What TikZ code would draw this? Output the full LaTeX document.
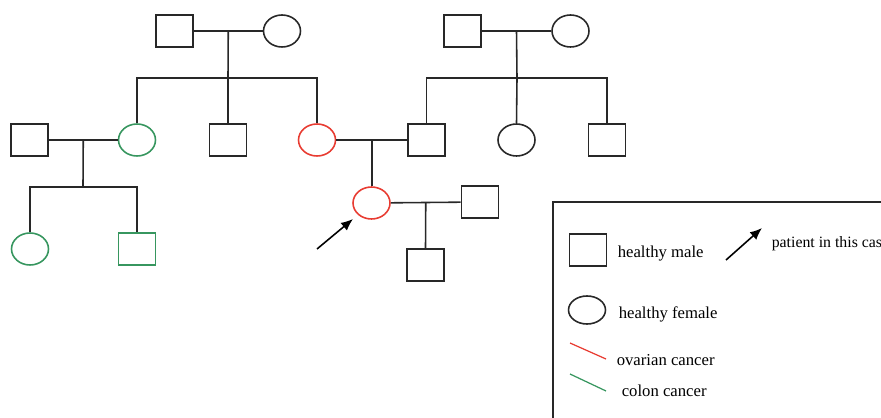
\documentclass[tikz,border=0pt]{standalone}
\usepackage{fontspec}
\setmainfont{Liberation Serif}
\usepackage{tikz}
\usetikzlibrary{shapes.geometric, arrows.meta}
\definecolor{ovary}{RGB}{232, 60, 50}
\definecolor{colon}{RGB}{55, 150, 95}
\definecolor{ink}{RGB}{40, 40, 40}

\begin{document}
\begin{tikzpicture}[x=0.02cm, y=-0.02cm, line width=0.9pt, ink,
  male/.style={draw, rectangle, minimum width=0.74cm, minimum height=0.64cm, inner sep=0pt},
  female/.style={draw, ellipse, minimum width=0.74cm, minimum height=0.64cm, inner sep=0pt},
  keytext/.style={anchor=base west, inner sep=0pt, text=black, font=\fontsize{9.5}{11}\selectfont}]
  \useasboundingbox (0, 0) rectangle (881, 418);
  \clip (0, 0) rectangle (881, 418);

  \node[male] (gfa) at (174.5, 31) {};
  \node[female] (gma) at (282, 31) {};
  \node[male] (gfb) at (462.5, 31) {};
  \node[female] (gmb) at (570.5, 31) {};

  \node[male] (auntman) at (29.5, 140) {};
  \node[female, colon] (aunt) at (137, 140) {};
  \node[male] (uncle) at (228, 140) {};
  \node[female, ovary] (mother) at (317, 140) {};
  \node[male] (father) at (426.5, 140) {};
  \node[female] (auntb) at (516.5, 140) {};
  \node[male] (uncleb) at (607, 140) {};

  \node[female, colon] (cousina) at (30, 249) {};
  \node[male, colon] (cousinb) at (137, 249) {};
  \node[female, ovary] (patient) at (371.5, 203) {};
  \node[male] (husband) at (480, 202) {};
  \node[male] (son) at (425.5, 265) {};

  \coordinate (bara) at (228, 78);
  \coordinate (barb) at (517, 78);
  \coordinate (barc) at (83, 187);

  \draw (gfa) -- coordinate (wedA) (gma);
  \draw (wedA) -- (bara);
  \draw (aunt.north) |- (bara) -| (mother.north);
  \draw (bara) -- (uncle.north);

  \draw (gfb) -- coordinate (wedB) (gmb);
  \draw (wedB) -- (barb);
  \draw (father.north) |- (barb) -| (uncleb.north);
  \draw (barb) -- (auntb.north);

  \draw (auntman) -- coordinate (wedC) (aunt);
  \draw (wedC) -- (barc);
  \draw (cousina.north) |- (barc) -| (cousinb.north);

  \draw (mother) -- coordinate (wedD) (father);
  \draw (wedD) -- (wedD |- patient.north);

  \draw (patient) -- coordinate (wedE) (husband);
  \draw (wedE) -- (son.north);

  \coordinate (pointer) at (317, 249);
  \coordinate (pointertip) at (353, 219);
  \draw[black, -{Latex[length=2.4mm, width=2mm]}] (pointer) -- (pointertip);

  % key
  \draw (553, 202) rectangle (900, 440);
  \node[male] (keymale) at (588, 250) {};
  \node[keytext] (keymaletext) at (617, 257) {healthy male};
  \coordinate (keyarrow) at (726, 260);
  \coordinate (keyarrowtip) at (762, 228);
  \draw[black, -{Latex[length=2.4mm, width=2mm]}] (keyarrow) -- (keyarrowtip);
  \node[keytext, font=\fontsize{9}{10}\selectfont] (keyarrowtext) at (771, 248) {patient in this case};
  \node[female, minimum height=0.56cm] (keyfemale) at (587, 310) {};
  \node[keytext] (keyfemaletext) at (618, 318) {healthy female};
  \coordinate (keyreda) at (570, 343);
  \coordinate (keyredb) at (606, 359);
  \draw[ovary, line width=0.7pt] (keyreda) -- (keyredb);
  \node[keytext] (keyredtext) at (616, 365) {ovarian cancer};
  \coordinate (keygreena) at (570, 374);
  \coordinate (keygreenb) at (606, 391);
  \draw[colon, line width=0.7pt] (keygreena) -- (keygreenb);
  \node[keytext] (keygreentext) at (621, 396) {colon cancer};
\end{tikzpicture}
\end{document}
